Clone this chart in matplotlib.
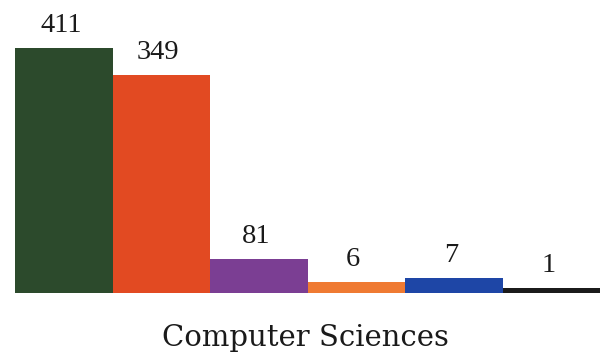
import matplotlib
matplotlib.use("Agg")
import matplotlib.pyplot as plt

# Data
labels = ["411", "349", "81", "6", "7", "1"]          # printed values
drawn_heights = [244.5, 217.5, 33.5, 10.5, 15, 4.5]   # bar heights as drawn (not to scale)
colors = ["#2c4a2c", "#e24a22", "#7b3e93", "#ef7a32", "#1e46a6", "#1b1b1b"]
title = "Computer Sciences"

W, H = 607, 363
fig = plt.figure(figsize=(W / 100, H / 100), dpi=100)
ax = fig.add_axes([15 / W, 70.5 / H, 585 / W, 292.5 / H])
x = list(range(len(labels)))
ax.bar(x, drawn_heights, width=1.0, color=colors, linewidth=0)
ax.set_xlim(-0.5, len(labels) - 0.5)
ax.set_ylim(0, 292.5)
ax.axis("off")

for xi, h, lab in zip(x, drawn_heights, labels):
    ax.text(xi - 0.03, h + 16, lab, ha="center", va="baseline",
            fontfamily="Liberation Serif", fontsize=20.5, color="#1a1a1a")

fig.text(305 / W, (H - 346) / H, title, ha="center", va="baseline",
         fontfamily="DejaVu Serif", fontsize=21, color="#1a1a1a")

fig.savefig("out.png", dpi=100)
